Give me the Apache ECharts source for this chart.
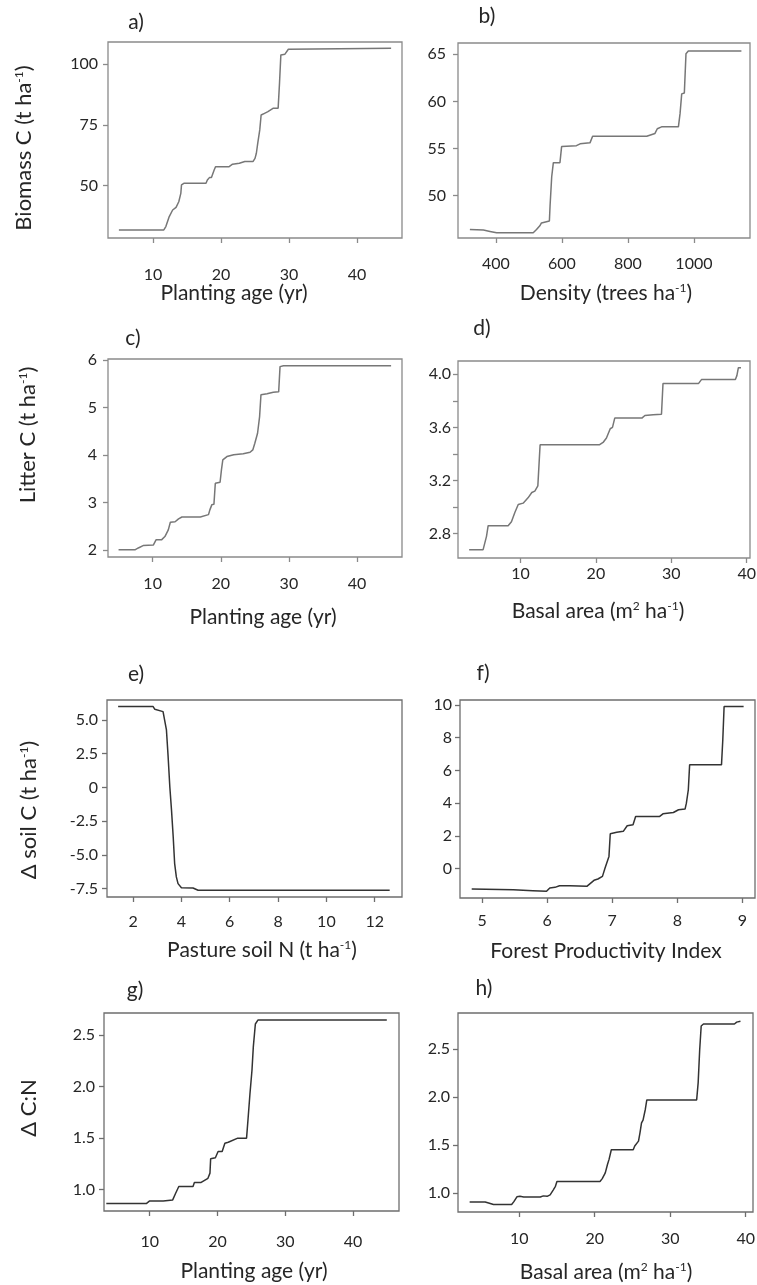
<!DOCTYPE html>
<html><head><meta charset="utf-8">
<script src="https://cdn.jsdelivr.net/npm/echarts@6/dist/echarts.min.js"></script>
<style>html,body{margin:0;padding:0;background:#fff}#c{width:757px;height:1285px}</style>
</head><body><div id="c"></div>
<script>
// ---- data ----
// a) Biomass C vs planting age
const aX = [5, 11.6, 11.9, 12.4, 12.9, 13.4, 13.6, 13.8, 14.1, 14.2, 14.6, 17.8, 18.0, 18.3, 18.6, 19.0, 19.2, 21.2, 21.7, 22.7, 23.5, 24.7, 25.0, 25.2, 25.4, 25.7, 25.9, 26.4, 26.9, 27.7, 28.4, 28.6, 28.8, 29.4, 29.9, 30.1, 45];
const aY = [31.8, 31.8, 33.2, 37.3, 40, 41.1, 41.4, 43.4, 46.8, 50.3, 51, 51, 52.3, 53.3, 53.3, 56.4, 57.8, 57.8, 58.8, 59.2, 59.9, 59.9, 61.2, 63.3, 67.4, 72.9, 79, 79.7, 80.4, 81.8, 81.8, 92, 103.7, 104, 106, 106.4, 106.4];
// b) Biomass C vs density
const bX = [321, 362, 382, 402, 513, 523, 533, 538, 543, 562, 564, 569, 574, 594, 599, 604, 644, 655, 685, 693, 725, 806, 857, 862, 882, 889, 902, 953, 958, 963, 971, 976, 983, 1144];
const bY = [46.4, 46.34, 46.2, 46.06, 46.06, 46.4, 46.8, 47.1, 47.2, 47.3, 48.9, 52.0, 53.5, 53.5, 55.2, 55.3, 55.3, 55.5, 55.6, 56.3, 56.3, 56.3, 56.3, 56.5, 56.6, 57.1, 57.3, 57.3, 58.7, 60.8, 60.9, 65.07, 65.35, 65.35];
// c) Litter C vs planting age
const cX = [5, 7.4, 7.9, 8.6, 10.1, 10.5, 11.3, 11.8, 12.3, 12.6, 13.3, 13.8, 14.3, 17.0, 17.2, 18.2, 18.4, 18.7, 19.0, 19.2, 19.9, 20.1, 20.3, 20.9, 21.9, 23.3, 24.3, 24.7, 25.0, 25.4, 25.7, 25.9, 26.8, 27.7, 28.5, 28.7, 29.2, 45];
const cY = [2.01, 2.01, 2.05, 2.1, 2.11, 2.22, 2.22, 2.29, 2.43, 2.59, 2.6, 2.66, 2.7, 2.7, 2.73, 2.75, 2.85, 2.96, 2.97, 3.41, 3.43, 3.69, 3.90, 3.97, 4.01, 4.03, 4.06, 4.11, 4.25, 4.46, 4.81, 5.27, 5.29, 5.32, 5.33, 5.86, 5.88, 5.88];
// d) Litter C vs basal area
const dX = [3.19, 5.04, 5.27, 5.49, 5.71, 8.36, 8.8, 9.25, 9.7, 10.35, 11.0, 11.5, 11.9, 12.3, 12.6, 20.5, 21.0, 21.4, 21.9, 22.2, 22.5, 26.1, 26.5, 27.6, 27.8, 28.7, 28.9, 33.6, 34.0, 38.5, 38.7, 38.9, 39.25];
const dY = [2.68, 2.68, 2.69, 2.78, 2.86, 2.86, 2.89, 2.96, 3.02, 3.03, 3.07, 3.11, 3.12, 3.16, 3.47, 3.47, 3.49, 3.52, 3.59, 3.6, 3.67, 3.67, 3.69, 3.695, 3.7, 3.7, 3.93, 3.93, 3.96, 3.96, 3.99, 4.05, 4.05];
// e) delta soil C vs pasture soil N
const eX = [1.38, 2.83, 2.9, 2.97, 3.24, 3.31, 3.38, 3.45, 3.52, 3.59, 3.66, 3.72, 3.79, 3.86, 4.0, 4.48, 4.69, 12.62];
const eY = [5.99, 5.99, 5.79, 5.67, 5.62, 5.54, 4.26, 2.28, 0.05, -1.68, -3.66, -5.64, -6.63, -7.13, -7.43, -7.45, -7.62, -7.62];
// f) delta soil C vs forest productivity index
const fX = [4.84, 5.48, 5.78, 5.99, 6.04, 6.12, 6.19, 6.35, 6.61, 6.66, 6.72, 6.78, 6.85, 6.89, 6.92, 6.95, 6.97, 7.07, 7.17, 7.23, 7.32, 7.36, 7.73, 7.78, 7.94, 8.02, 8.12, 8.14, 8.17, 8.19, 8.68, 8.70, 8.72, 9.02];
const fY = [-1.24, -1.28, -1.34, -1.38, -1.18, -1.14, -1.04, -1.04, -1.08, -0.91, -0.71, -0.63, -0.47, 0.04, 0.1, 0.75, 2.13, 2.22, 2.28, 2.62, 2.68, 3.19, 3.19, 3.35, 3.43, 3.6, 3.64, 4.0, 4.82, 6.34, 6.34, 7.87, 9.9, 9.9];
// g) delta C:N vs planting age
const gX = [3.6, 9.5, 10.0, 12.0, 13.4, 13.8, 14.3, 16.4, 16.6, 17.6, 18.1, 18.6, 18.9, 19.0, 19.7, 20.1, 20.7, 21.1, 21.6, 23.0, 24.3, 24.5, 24.8, 25.1, 25.3, 25.6, 26.0, 45];
const gY = [0.864, 0.864, 0.89, 0.89, 0.90, 0.96, 1.03, 1.03, 1.07, 1.07, 1.09, 1.11, 1.16, 1.30, 1.31, 1.37, 1.37, 1.45, 1.46, 1.50, 1.50, 1.67, 1.93, 2.16, 2.39, 2.61, 2.65, 2.65];
// h) delta C:N vs basal area
const hX = [3.44, 5.5, 5.95, 6.6, 9.0, 9.3, 9.7, 10.1, 10.6, 12.8, 13.2, 13.7, 14.1, 14.5, 14.8, 15.0, 20.7, 21.0, 21.1, 21.4, 21.7, 21.9, 22.2, 25.1, 25.3, 25.8, 26.0, 26.2, 26.4, 26.7, 26.9, 33.5, 33.7, 33.9, 34.1, 34.4, 38.5, 38.8, 39.3];
const hY = [0.906, 0.906, 0.896, 0.88, 0.88, 0.91, 0.96, 0.965, 0.958, 0.958, 0.97, 0.965, 0.98, 1.03, 1.07, 1.12, 1.12, 1.15, 1.17, 1.21, 1.30, 1.35, 1.45, 1.45, 1.49, 1.54, 1.63, 1.73, 1.76, 1.87, 1.97, 1.97, 2.15, 2.49, 2.74, 2.76, 2.76, 2.78, 2.79];

// tick values
const ageTicks = [10, 20, 30, 40];
const densTicks = [400, 600, 800, 1000];
const basalTicks = [10, 20, 30, 40];
const soilNTicks = [2, 4, 6, 8, 10, 12];
const fpiTicks = [5, 6, 7, 8, 9];
const aYTicks = [50, 75, 100];
const bYTicks = [50, 55, 60, 65];
const cYTicks = [2, 3, 4, 5, 6];
const dYTicks = [2.8, 3.0, 3.2, 3.4, 3.6, 3.8, 4.0];
const dYLabels = [2.8, 3.2, 3.6, 4.0];
const eYTicks = [-7.5, -5, -2.5, 0, 2.5, 5];
const fYTicks = [0, 2, 4, 6, 8, 10];
const cnTicks = [1.0, 1.5, 2.0, 2.5];

// ---- layout ----
const light = {line: '#777777', box: '#8a8a8a'};
const dark = {line: '#333333', box: '#6e6e6e'};
const plain = v => String(v);
const fix1 = v => v.toFixed(1);
const fixE = v => v === 0 ? '0' : v.toFixed(1);
const panels = [
  {x: aX, y: aY, g: [108, 42, 294, 196], xr: [3.4, 46.6], yr: [28.5, 109], xt: ageTicks, yt: aYTicks, xm: 29, ym: 10, c: light},
  {x: bX, y: bY, g: [458, 43, 292, 195], xr: [285, 1170], yr: [45.5, 66.2], xt: densTicks, yt: bYTicks, xm: 18, ym: 12, c: light},
  {x: cX, y: cY, g: [108, 359, 294, 198], xr: [3.45, 46.6], yr: [1.86, 6.02], xt: ageTicks, yt: cYTicks, xm: 19, ym: 11, c: light},
  {x: dX, y: dY, g: [458, 361, 292, 197], xr: [1.71, 40.44], yr: [2.617, 4.10], xt: basalTicks, yt: dYTicks, yl: dYLabels, yf: fix1, xm: 8, ym: 7, c: light},
  {x: eX, y: eY, g: [107, 700, 295, 197], xr: [0.92, 13.13], yr: [-8.12, 6.48], xt: soilNTicks, yt: eYTicks, yf: fixE, xm: 17, ym: 9, c: dark},
  {x: fX, y: fY, g: [460, 700, 295, 198], xr: [4.66, 9.195], yr: [-1.79, 10.3], xt: fpiTicks, yt: fYTicks, xm: 15, ym: 8, c: dark},
  {x: gX, y: gY, g: [104, 1013, 295, 198], xr: [3.26, 46.8], yr: [0.792, 2.717], xt: ageTicks, yt: cnTicks, yf: fix1, xm: 23, ym: 9, c: dark},
  {x: hX, y: hY, g: [458, 1013, 295, 199], xr: [1.9, 40.96], yr: [0.802, 2.875], xt: basalTicks, yt: cnTicks, yf: fix1, xm: 19, ym: 8, c: dark}
];

const FONT = 'Lato, "Open Sans", sans-serif';
const TXT = '#262626';
const grids = [], xAxes = [], yAxes = [], series = [];
panels.forEach((p, i) => {
  grids.push({left: p.g[0], top: p.g[1], width: p.g[2], height: p.g[3], show: true,
    borderColor: p.c.box, borderWidth: 1.3, backgroundColor: 'transparent',
    containLabel: false, outerBoundsMode: 'none'});
  xAxes.push({type: 'value', gridIndex: i, position: 'bottom', min: p.xr[0], max: p.xr[1],
    axisLine: {show: false, onZero: false}, splitLine: {show: false},
    axisTick: {show: true, length: 5, customValues: p.xt, lineStyle: {color: p.c.box, width: 1.3}},
    axisLabel: {customValues: p.xt, margin: p.xm, color: TXT, fontSize: 16, fontFamily: FONT, formatter: plain}});
  yAxes.push({type: 'value', gridIndex: i, position: 'left', min: p.yr[0], max: p.yr[1],
    axisLine: {show: false, onZero: false}, splitLine: {show: false},
    axisTick: {show: true, length: 5, customValues: p.yt, lineStyle: {color: p.c.box, width: 1.3}},
    axisLabel: {customValues: p.yl || p.yt, margin: p.ym, color: TXT, fontSize: 16, fontFamily: FONT,
      formatter: p.yf || plain}});
  series.push({type: 'line', xAxisIndex: i, yAxisIndex: i, showSymbol: false, symbol: 'none',
    animation: false, silent: true,
    lineStyle: {color: p.c.line, width: 1.5},
    data: p.x.map((v, k) => [v, p.y[k]])});
});

const sup = {s: {fontSize: 12, verticalAlign: 'top', fill: TXT, fontFamily: FONT}};
function label(text, x, y, size, rot) {
  return {type: 'text', x: x, y: y, rotation: rot ? Math.PI / 2 : 0, silent: true,
    style: {text: text, fontSize: size, fontFamily: FONT, fill: TXT, align: 'center', verticalAlign: 'middle', rich: sup}};
}
const graphics = [
  label('a)', 136, 22, 21), label('b)', 487, 16, 21), label('c)', 133, 338, 21), label('d)', 482, 328, 21),
  label('e)', 136, 674, 21), label('f)', 483, 673, 21), label('g)', 135, 990, 21), label('h)', 484, 988, 21),
  label('Planting age (yr)', 234, 293, 21),
  label('Density (trees ha{s|-1})', 606, 293, 21),
  label('Planting age (yr)', 263, 617, 21),
  label('Basal area (m{s|2} ha{s|-1})', 598, 611, 21),
  label('Pasture soil N (t ha{s|-1})', 262, 950, 21),
  label('Forest Productivity Index', 606, 951, 21),
  label('Planting age (yr)', 254, 1271, 21),
  label('Basal area (m{s|2} ha{s|-1})', 606, 1272, 21),
  label('Biomass C (t ha{s|-1})', 24, 148, 22, true),
  label('Litter C (t ha{s|-1})', 28, 435, 22, true),
  label('Δ soil C (t ha{s|-1})', 29, 810, 22, true),
  label('Δ C:N', 29, 1108, 22, true)
];

const chart = echarts.init(document.getElementById('c'), null, {renderer: 'canvas'});
chart.setOption({
  backgroundColor: '#ffffff',
  animation: false,
  grid: grids, xAxis: xAxes, yAxis: yAxes, series: series,
  graphic: graphics
});
</script></body></html>
